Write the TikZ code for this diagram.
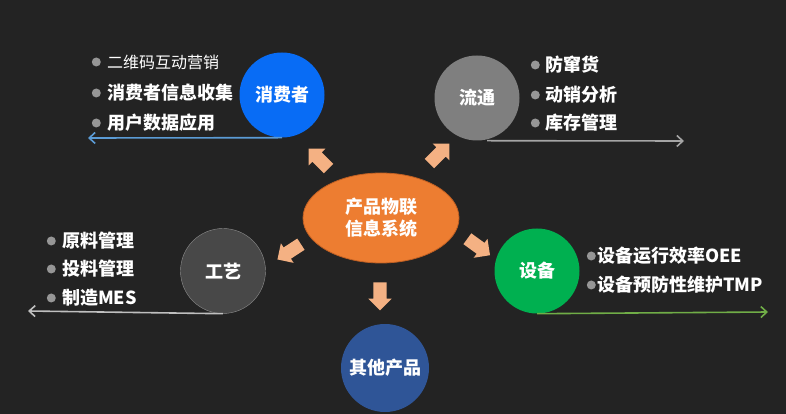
\documentclass[tikz,border=0pt]{standalone}
\usepackage{fontspec}
\setmainfont{Noto Sans CJK SC}
\usepackage{tikz}
\usetikzlibrary{positioning,arrows.meta,shapes.geometric,shapes.arrows,calc}

\definecolor{bgdark}{RGB}{35,35,35}
\definecolor{hubfill}{RGB}{237,125,49}
\definecolor{hubline}{RGB}{190,95,35}
\definecolor{blockarr}{RGB}{244,177,131}
\definecolor{consblue}{RGB}{8,108,245}
\definecolor{flowgray}{RGB}{127,127,127}
\definecolor{craftgray}{RGB}{72,72,72}
\definecolor{equipgreen}{RGB}{0,176,80}
\definecolor{otherblue}{RGB}{47,85,151}
\definecolor{dotgray}{RGB}{150,150,150}
\definecolor{consline}{RGB}{91,155,213}
\definecolor{flowline}{RGB}{165,165,165}
\definecolor{craftline}{RGB}{191,191,191}
\definecolor{equipline}{RGB}{112,173,71}

\begin{document}
\begin{tikzpicture}[x=1pt,y=1pt,
  hub/.style={ellipse,draw=hubline,thick,fill=hubfill,minimum width=156pt,minimum height=90pt,inner sep=0pt,align=center,text=white,font=\bfseries\fontsize{18}{22}\selectfont},
  cat/.style={circle,fill=#1,minimum size=85pt,inner sep=0pt,text=white,font=\bfseries\fontsize{18}{22}\selectfont},
  item/.style={anchor=west,inner sep=0pt,text=white,font=\bfseries\fontsize{18}{22}\selectfont},
  dot/.style={circle,fill=dotgray,minimum size=9pt,inner sep=0pt},
  blk/.style={single arrow,fill=blockarr,minimum height=28pt,inner xsep=0pt,inner ysep=6.5pt,single arrow head extend=5pt,rotate=#1},
  tail/.style={-{Straight Barb[length=6pt,width=11pt]},line width=1.6pt,draw=#1},
]

% background and size
\fill[bgdark] (0,0) rectangle (786,414);
\useasboundingbox (0,0) rectangle (786,414);

% === CENTRE ===
\node[hub] (hub) at (381,196) {产品物联\\信息系统};

% === CATEGORIES ===
\node[cat=consblue] (cons) at (282,319) {消费者};
\node[cat=flowgray] (flow) at (477,316) {流通};
\node[cat=craftgray,draw=gray!90,thin] (craft) at (223,143) {工艺};
\node[cat=equipgreen] (equip) at (537,143) {设备};
\node[cat=otherblue,minimum size=88pt] (other) at (385,46) {其他产品};

% block arrows out of the centre
\node[blk=135] (toCons) at (321,253) {};
\node[blk=45] (toFlow) at (437,258) {};
\node[blk=213] (toCraft) at (292,164) {};
\node[blk=-36] (toEquip) at (476,169) {};
\node[blk=270] (toOther) at (380,121) {};

% === CONSUMER ITEMS ===
\node[item,font=\fontsize{16}{20}\selectfont] (cons1) at (107,352) {二维码互动营销};
\node[item] (cons2) at (107,321) {消费者信息收集};
\node[item] (cons3) at (107,291) {用户数据应用};
\node[dot,left=6pt of cons1] (cons1d) {};
\node[dot,left=6pt of cons2] (cons2d) {};
\node[dot,left=6pt of cons3] (cons3d) {};
\coordinate (consEnd) at (88,276);
\draw[tail=consline] (cons.south) -- (consEnd);

% === FLOW ITEMS ===
\node[item] (flow1) at (545,349) {防窜货};
\node[item] (flow2) at (545,319) {动销分析};
\node[item] (flow3) at (545,291) {库存管理};
\node[dot,left=5pt of flow1] (flow1d) {};
\node[dot,left=5pt of flow2] (flow2d) {};
\node[dot,left=5pt of flow3] (flow3d) {};
\coordinate (flowEnd) at (684,273);
\draw[tail=flowline] ($(flow.south)+(10,0)$) -- (flowEnd);

% === CRAFT ITEMS ===
\node[item] (craft1) at (62,173) {原料管理};
\node[item] (craft2) at (62,145) {投料管理};
\node[item] (craft3) at (62,116) {制造MES};
\node[dot,left=6pt of craft1] (craft1d) {};
\node[dot,left=6pt of craft2] (craft2d) {};
\node[dot,left=6pt of craft3] (craft3d) {};
\coordinate (craftEnd) at (28,103);
\draw[tail=craftline] (craft.south) -- (craftEnd);

% === EQUIPMENT ITEMS ===
\node[item] (equip1) at (597,158) {设备运行效率OEE};
\node[item] (equip2) at (597,129) {设备预防性维护TMP};
\node[dot,left=1pt of equip1] (equip1d) {};
\node[dot,left=1pt of equip2] (equip2d) {};
\coordinate (equipEnd) at (768,102);
\draw[tail=equipline] (equip.south) -- (equipEnd);

\end{tikzpicture}
\end{document}
